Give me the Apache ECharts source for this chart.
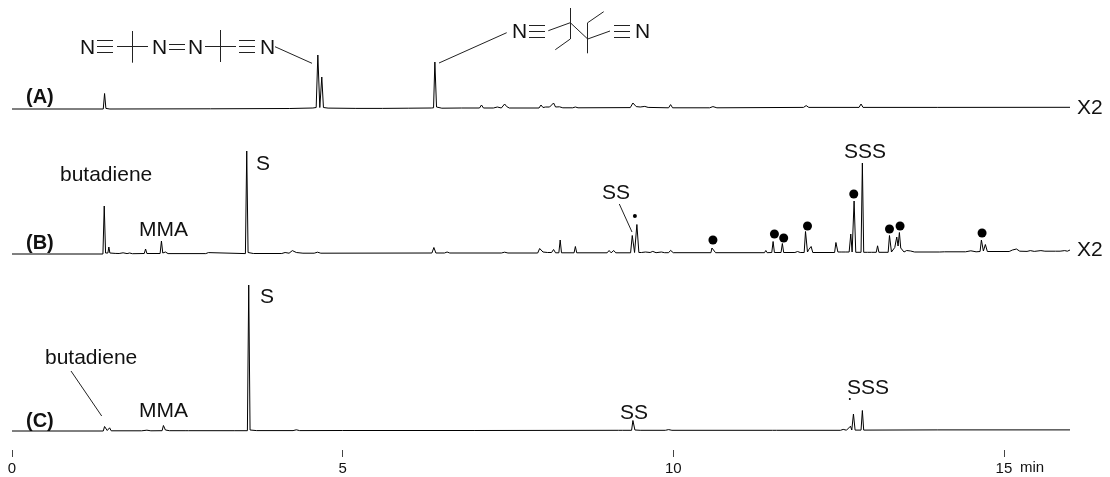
<!DOCTYPE html>
<html>
<head>
<meta charset="utf-8">
<style>html,body{margin:0;padding:0;background:#fff}#c{width:1110px;height:477px}</style>
<script src="https://cdn.jsdelivr.net/npm/echarts@6/dist/echarts.min.js"></script>
</head>
<body>
<div id="c"></div>
<script>
// retention time (min), relative intensity
const traceA = [[0,0],[1.38,0],[1.40,15.5],[1.42,0.6],[1.48,0],[3.0,0.2],[4.2,0.5],[4.55,1],[4.6,1.5],[4.625,54],[4.655,1.5],[4.685,32],[4.71,1.5],[4.78,0.9],[5.2,0.6],[5.6,0.6],[6.0,0.8],[6.34,1],[6.375,1.2],[6.395,47],[6.42,2],[6.5,0.8],[6.8,1],[7.07,1],[7.10,4],[7.13,1],[7.28,1],[7.34,2],[7.40,1],[7.45,5],[7.48,2.5],[7.52,1],[7.97,1],[8.0,4],[8.03,1.5],[8.07,2],[8.10,1.2],[8.13,2],[8.16,1.2],[8.19,6],[8.22,2],[8.28,2.2],[8.33,1.2],[8.48,1.2],[8.52,2],[8.56,1.2],[9.35,1.4],[9.39,6],[9.44,2.4],[9.5,2],[9.57,2.6],[9.62,1.6],[9.93,1.2],[9.96,4.4],[9.99,1.2],[10.55,1.2],[10.6,2.4],[10.66,1.2],[11.97,1.6],[12.01,3.4],[12.05,1.6],[12.81,1.6],[12.84,5],[12.87,1.6],[14,1.6],[16,1.7]];
const traceB = [[0,0],[1.375,0],[1.395,48],[1.415,1],[1.45,1],[1.465,7],[1.48,1],[1.56,0.6],[1.58,1.4],[1.62,0.5],[1.68,1.2],[1.74,0.4],[1.78,1],[1.82,0.3],[2.0,0.5],[2.02,5],[2.04,0.5],[2.24,0.5],[2.26,13],[2.28,1],[2.32,2],[2.36,0.4],[2.93,0.4],[2.97,1.4],[3.0,0.4],[3.53,0.4],[3.55,103],[3.57,1.5],[3.65,0.5],[4.08,0.5],[4.13,1.5],[4.19,0.8],[4.24,3.4],[4.3,1.5],[4.4,0.8],[4.57,0.8],[4.62,1.8],[4.67,0.8],[6.35,1],[6.38,6.5],[6.41,1],[6.54,1],[6.58,2],[6.62,1],[7.4,1],[7.45,1.8],[7.5,1],[7.95,1],[7.98,5.5],[8.03,2],[8.06,2.4],[8.1,1.5],[8.16,1.5],[8.19,4.5],[8.22,1.2],[8.27,1.2],[8.29,14],[8.31,1.2],[8.5,1.2],[8.52,7.5],[8.54,1.2],[9.0,1.2],[9.03,3.5],[9.06,1.2],[9.08,1.2],[9.1,3.5],[9.13,1.2],[9.355,1.2],[9.38,18.5],[9.415,1.5],[9.45,29.5],[9.48,1.5],[9.52,1.5],[9.55,3],[9.58,2],[9.61,2.8],[9.65,1.5],[9.69,2.6],[9.74,1.3],[9.82,2],[9.87,1.3],[9.93,1.3],[9.96,3.6],[10.0,1.3],[10.57,1.3],[10.585,6],[10.6,7.5],[10.615,6],[10.64,1.3],[11.38,1.3],[11.40,3.5],[11.42,1.3],[11.49,1.5],[11.51,12.5],[11.53,1.5],[11.63,1.5],[11.65,10.5],[11.67,1.5],[11.84,1.5],[11.88,2.5],[11.92,1.5],[11.98,1.5],[12.0,22.5],[12.03,2],[12.05,4.5],[12.065,2.5],[12.085,7.5],[12.11,1.5],[12.44,1.5],[12.46,11.5],[12.49,2],[12.55,2],[12.58,3],[12.6,2],[12.63,3.5],[12.66,2],[12.685,20],[12.705,2],[12.735,53],[12.76,1.7],[12.84,1.7],[12.86,91],[12.88,1.7],[12.94,1.7],[12.97,3.6],[13.0,1.7],[13.07,1.7],[13.09,8.2],[13.11,1.7],[13.25,1.7],[13.27,18.5],[13.3,2],[13.35,6.5],[13.38,17],[13.4,8],[13.42,21.5],[13.44,6],[13.46,8],[13.49,2],[13.53,3.5],[13.56,2],[13.59,3],[13.65,2],[14.03,2],[14.06,4],[14.1,2.2],[14.42,2.2],[14.5,3.2],[14.58,2.2],[14.64,2.5],[14.66,14],[14.69,3],[14.72,9.5],[14.75,2.5],[15.08,2.5],[15.13,4],[15.16,2.8],[15.19,5],[15.24,2.8],[15.35,2.6],[15.4,3.4],[15.46,2.6],[15.56,3.4],[15.62,2.8],[15.78,2.8],[15.85,2.8],[15.92,3.4],[15.96,2.8],[16,4]];
const traceC = [[0,0],[1.38,0],[1.40,4.5],[1.44,0.5],[1.476,3.2],[1.5,0.2],[1.96,0.2],[2.04,0.8],[2.1,0.2],[2.27,0.3],[2.29,5.5],[2.32,1],[2.38,0.3],[2.63,0.3],[2.65,2],[2.67,0.3],[3.36,0.3],[3.56,0.3],[3.58,146],[3.6,1],[3.7,0.4],[4.25,0.4],[4.30,1.2],[4.35,0.4],[5.0,0.5],[7.0,0.5],[9.17,0.7],[9.2,1.8],[9.23,0.7],[9.37,0.7],[9.39,10.5],[9.42,1],[9.5,0.7],[9.88,0.7],[9.93,1.4],[9.98,0.7],[11.5,0.7],[11.53,1.2],[11.56,0.7],[12.53,0.7],[12.57,1.6],[12.62,0.8],[12.68,4.8],[12.7,1],[12.725,17],[12.75,0.9],[12.84,0.9],[12.86,20.5],[12.88,0.9],[14,1.1],[16,1.1]];
const dotsB = [[10.60,14],[11.53,20],[11.67,16],[12.03,28],[12.73,60],[13.27,25],[13.43,28],[14.67,21]];
const smallDotB = [[9.42,38]];
const smallDotC = [[12.67,32]];
const tickValues = [0,5,10,15];

const lineStyle = {color:'#000',width:1};
function trace(data,i){
  return {type:'line',data:data,xAxisIndex:i,yAxisIndex:i,symbol:'none',showSymbol:false,sampling:false,lineStyle:lineStyle,animation:false,silent:true,clip:false};
}
function dots(data,i,size){
  return {type:'scatter',data:data,xAxisIndex:i,yAxisIndex:i,symbol:'circle',symbolSize:size,itemStyle:{color:'#000',opacity:1},animation:false,silent:true};
}
function hiddenX(i){return {type:'value',gridIndex:i,min:0,max:16,show:false};}

const labels = [
  ['(A)',26,97,true],['(B)',26,243,true],['(C)',26,421,true],
  ['butadiene',60,175],['MMA',139,230],['S',256,164],['SS',602,193],['SSS',844,152],
  ['X2',1077,108],['X2',1077,250],
  ['butadiene',45,358],['MMA',139,411],['S',260,297],['SS',620,413],['SSS',847,388],
  ['N',80,48],['N',152,48],['N',188,48],['N',260,48],['N',512,32],['N',635,32]
];
const strokes = [
  // leaders
  [275,46.7,312,63.3],[439,63,506.7,32.7],[619.3,204,632,232],[71,371,101.7,416],
  // left structure
  [97,40.5,113,40.5],[97,46.5,113,46.5],[97,52.5,113,52.5],
  [117,46.5,148,46.5],[132.5,31,132.5,62.7],
  [169,44.5,185,44.5],[169,49.5,185,49.5],
  [205,46.5,236,46.5],[220.5,30,220.5,62],
  [239,40.5,255,40.5],[239,46.5,255,46.5],[239,52.5,255,52.5],
  // right structure
  [529,25.5,545,25.5],[529,31.5,545,31.5],[529,37.5,545,37.5],
  [548.3,30.7,570.3,22.7],[570.5,8,570.5,39],[570.3,39,555.3,49.7],
  [570.3,22.7,587.7,39],[587.5,22.7,587.5,53.3],[587.7,22.7,603.7,11.7],[587.7,39,610,31],
  [614,25.5,630,25.5],[614,31.5,630,31.5],[614,37.5,630,37.5]
];
const font = '"Liberation Sans", Arial, sans-serif';
const graphic = [];
labels.forEach(function(l){
  graphic.push({type:'text',x:l[1],y:l[2],silent:true,style:{text:l[0],fill:'#111',font:(l[3]?'bold ':'')+(l[3]?'20px ':'21px ')+font,verticalAlign:'middle'}});
});
strokes.forEach(function(s){
  graphic.push({type:'line',silent:true,shape:{x1:s[0],y1:s[1],x2:s[2],y2:s[3]},style:{stroke:'#222',lineWidth:1}});
});
graphic.push({type:'text',x:1020,y:468,silent:true,style:{text:'min',fill:'#111',font:'15px '+font,verticalAlign:'middle'}});

const chart = echarts.init(document.getElementById('c'),null,{renderer:'canvas'});
chart.setOption({
  animation:false,
  backgroundColor:'#fff',
  grid:[
    {left:12,width:1058,top:29,height:80},
    {left:12,width:1058,top:129,height:125},
    {left:12,width:1058,top:279,height:152},
    {left:12,width:1058,top:449,height:1}
  ],
  xAxis:[hiddenX(0),hiddenX(1),hiddenX(2),{
    type:'value',gridIndex:3,min:0,max:16,position:'bottom',
    axisLine:{show:false},splitLine:{show:false},
    axisTick:{show:true,length:7,customValues:tickValues,lineStyle:{color:'#444',width:1}},
    axisLabel:{show:true,customValues:tickValues,margin:11,fontSize:15,color:'#111',fontFamily:font}
  }],
  yAxis:[
    {type:'value',gridIndex:0,min:0,max:80,show:false},
    {type:'value',gridIndex:1,min:0,max:125,show:false},
    {type:'value',gridIndex:2,min:0,max:152,show:false},
    {type:'value',gridIndex:3,min:0,max:1,show:false}
  ],
  series:[
    trace(traceA,0),trace(traceB,1),trace(traceC,2),
    dots(dotsB,1,9),dots(smallDotB,1,4),dots(smallDotC,2,2)
  ],
  graphic:graphic
});
</script>
</body>
</html>
